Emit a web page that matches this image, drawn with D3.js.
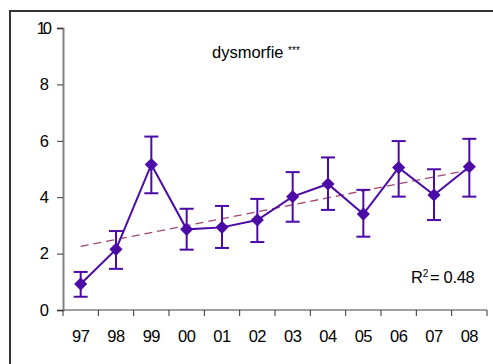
<!DOCTYPE html>
<html>
<head>
<meta charset="utf-8">
<script src="https://cdn.jsdelivr.net/npm/d3@7"></script>
<style>
  html, body { margin: 0; padding: 0; background: #fff; overflow: hidden; }
  svg { display: block; font-family: "Liberation Sans", Arial, sans-serif; }
</style>
</head>
<body>
<svg id="chart" width="493" height="364"></svg>
<script>
// Years on the x axis and yearly means with their error bar bounds
const years = ["97", "98", "99", "00", "01", "02", "03", "04", "05", "06", "07", "08"];
const means = [0.92, 2.15, 5.16, 2.86, 2.93, 3.19, 4.02, 4.47, 3.40, 5.05, 4.08, 5.08];
const upper = [1.35, 2.80, 6.15, 3.59, 3.69, 3.94, 4.89, 5.41, 4.26, 5.99, 4.99, 6.07];
const lower = [0.47, 1.46, 4.14, 2.14, 2.20, 2.41, 3.13, 3.55, 2.60, 4.02, 3.19, 4.02];
const yTicks = [0, 2, 4, 6, 8, 10];
const title = "dysmorfie";
const titleStars = "***";
const r2Label = "0.48";

const purple = "#4c0aa6";
const trendColor = "#a2476f";

const svg = d3.select("#chart");
const left = 63, right = 487;

// outer frame: only its left and top edges fall inside the view
svg.append("path")
  .attr("d", "M10,364 L10,11 L493,11")
  .attr("fill", "none").attr("stroke", "#333").attr("stroke-width", 2);

const x = d3.scaleBand().domain(years).range([left, right]).padding(0);
const y = d3.scaleLinear().domain([0, 10]).range([310, 28]);

// y axis
const yAxis = svg.append("g")
  .attr("transform", `translate(${left},0)`)
  .call(d3.axisLeft(y).tickValues(yTicks).tickSize(6).tickPadding(8));
yAxis.select(".domain").attr("stroke", "#808080").attr("stroke-width", 2);
yAxis.selectAll(".tick line").attr("stroke", "#333");
yAxis.selectAll(".tick text")
  .attr("font-size", 16.5).attr("fill", "#000")
  .attr("letter-spacing", d => d === 10 ? "-3px" : "0");

// x axis with ticks on category boundaries
const xAxisG = svg.append("g").attr("transform", `translate(0,${y(0)})`);
xAxisG.append("line")
  .attr("x1", left).attr("x2", right)
  .attr("stroke", "#808080").attr("stroke-width", 1.5);
const bounds = years.map(d => x(d)).concat([x(years[years.length - 1]) + x.bandwidth()]);
xAxisG.selectAll("line.tk").data(bounds).join("line")
  .attr("class", "tk")
  .attr("x1", d => d).attr("x2", d => d)
  .attr("y1", 0).attr("y2", 6)
  .attr("stroke", "#333").attr("stroke-width", 1);
xAxisG.selectAll("text").data(years).join("text")
  .attr("x", d => x(d) + x.bandwidth() / 2)
  .attr("y", 32)
  .attr("text-anchor", "middle")
  .attr("font-size", 16.5)
  .attr("letter-spacing", "-0.5px")
  .attr("fill", "#000")
  .text(d => d);

const cx = d => x(d) + x.bandwidth() / 2;

// linear trend fitted to the yearly means
const n = means.length;
const xs = d3.range(n);
const mx = d3.mean(xs), my = d3.mean(means);
const slope = d3.sum(xs, i => (i - mx) * (means[i] - my)) / d3.sum(xs, i => (i - mx) ** 2);
const intercept = my - slope * mx;
svg.append("line")
  .attr("x1", cx(years[0])).attr("y1", y(intercept))
  .attr("x2", cx(years[n - 1])).attr("y2", y(intercept + slope * (n - 1)))
  .attr("stroke", trendColor).attr("stroke-width", 1.3)
  .attr("stroke-dasharray", "8,5");

// error bars
const eb = svg.append("g").attr("stroke", purple).attr("stroke-width", 2);
years.forEach((d, i) => {
  const c = cx(d);
  eb.append("line").attr("x1", c).attr("x2", c).attr("y1", y(upper[i])).attr("y2", y(lower[i]));
  eb.append("line").attr("x1", c - 7).attr("x2", c + 7).attr("y1", y(upper[i])).attr("y2", y(upper[i]));
  eb.append("line").attr("x1", c - 7).attr("x2", c + 7).attr("y1", y(lower[i])).attr("y2", y(lower[i]));
});

// series line
svg.append("path")
  .datum(means)
  .attr("d", d3.line().x((v, i) => cx(years[i])).y(v => y(v)))
  .attr("fill", "none").attr("stroke", purple).attr("stroke-width", 2);

// diamond markers
svg.selectAll("path.mk").data(means).join("path")
  .attr("class", "mk")
  .attr("d", d3.symbol(d3.symbolDiamond2, 110))
  .attr("transform", (v, i) => `translate(${cx(years[i])},${y(v)})`)
  .attr("fill", purple);

// title
const t = svg.append("text")
  .attr("x", 212).attr("y", 58)
  .attr("font-size", 16.5).attr("fill", "#000");
t.append("tspan").text(title + " ");
t.append("tspan").attr("font-size", 10).attr("dy", -4).text(titleStars);

// R² label
const r = svg.append("text")
  .attr("x", 411).attr("y", 283)
  .attr("font-size", 16.5).attr("fill", "#000")
  .attr("letter-spacing", "-0.3px");
r.append("tspan").text("R");
r.append("tspan").attr("font-size", 10).attr("dy", -6).text("2");
r.append("tspan").attr("dy", 6).attr("dx", 2).text("= " + r2Label);
</script>
</body>
</html>
